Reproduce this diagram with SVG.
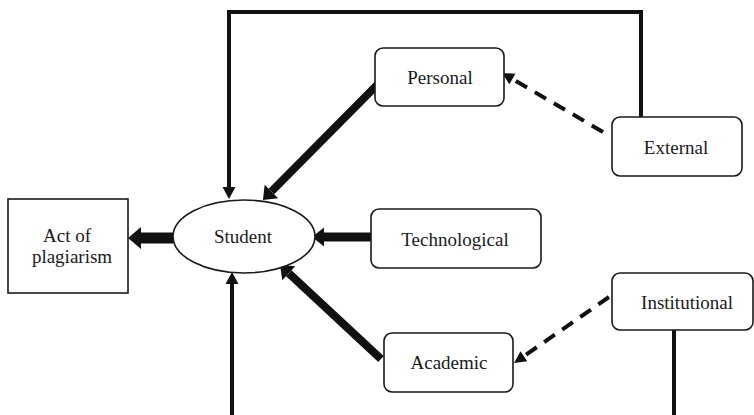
<svg xmlns="http://www.w3.org/2000/svg" width="754" height="415" viewBox="0 0 754 415">
<style>
.box{fill:#fff;stroke:#1a1a1a;stroke-width:1.6}
.lbl{font-family:"Liberation Serif","Times New Roman",serif;font-size:19px;fill:#1a1a1a;text-anchor:middle}
.con{fill:none;stroke:#111;stroke-linejoin:miter;stroke-linecap:butt}
.dash{stroke-dasharray:13 9}
</style>
<defs>
<marker id="hBig" markerUnits="userSpaceOnUse" orient="auto" refX="0" refY="0" markerWidth="30" markerHeight="30" viewBox="-1 -15 30 30" overflow="visible"><path d="M0,-11 L13,0 L0,11 Z" fill="#111"/></marker>
<marker id="hMed" markerUnits="userSpaceOnUse" orient="auto" refX="0" refY="0" markerWidth="30" markerHeight="30" viewBox="-1 -15 30 30" overflow="visible"><path d="M0,-9.5 L12,0 L0,9.5 Z" fill="#111"/></marker>
<marker id="hThin" markerUnits="userSpaceOnUse" orient="auto" refX="0" refY="0" markerWidth="30" markerHeight="30" viewBox="-1 -15 30 30" overflow="visible"><path d="M0,-6.5 L12,0 L0,6.5 Z" fill="#111"/></marker>
<marker id="hDash" markerUnits="userSpaceOnUse" orient="auto" refX="0" refY="0" markerWidth="30" markerHeight="30" viewBox="-1 -15 30 30" overflow="visible"><path d="M0,-6 L12,0 L0,6 Z" fill="#111"/></marker>
</defs>
<g id="connectors">
<path class="con" stroke-width="11" d="M174,238 L141,238" marker-end="url(#hBig)"/>
<path class="con" stroke-width="9" d="M371,237 L324,237" marker-end="url(#hMed)"/>
<path class="con" stroke-width="8" d="M378,84 L271.4,191.5" marker-end="url(#hMed)"/>
<path class="con" stroke-width="8" d="M381,359 L288.8,273.2" marker-end="url(#hMed)"/>
<path class="con" stroke-width="4" d="M641,117 L641,12 L229,12 L229,187" marker-end="url(#hThin)"/>
<path class="con" stroke-width="4" d="M232,415 L232,284" marker-end="url(#hThin)"/>
<path class="con" stroke-width="4" d="M674,330 L674,415"/>
<path class="con dash" stroke-width="4" d="M603,132 L512.4,79" marker-end="url(#hDash)"/>
<path class="con dash" stroke-width="4" d="M609,297 L523.9,356.2" marker-end="url(#hDash)"/>
</g>
<g id="act">
<rect class="box" x="8" y="199" width="120" height="94"/>
<text class="lbl" x="67" y="242">Act of</text>
<text class="lbl" x="72" y="263">plagiarism</text>
</g>
<g id="student">
<ellipse class="box" cx="244" cy="236.5" rx="71" ry="36.5"/>
<text class="lbl" x="243" y="243">Student</text>
</g>
<g id="personal">
<rect class="box" x="375" y="48" width="129" height="58" rx="8"/>
<text class="lbl" x="440" y="84">Personal</text>
</g>
<g id="external">
<rect class="box" x="612" y="117" width="130" height="59" rx="8"/>
<text class="lbl" x="676" y="154">External</text>
</g>
<g id="technological">
<rect class="box" x="371" y="209" width="170" height="59" rx="8"/>
<text class="lbl" x="455" y="246">Technological</text>
</g>
<g id="institutional">
<rect class="box" x="612" y="273" width="141" height="57" rx="8"/>
<text class="lbl" x="687" y="309">Institutional</text>
</g>
<g id="academic">
<rect class="box" x="384" y="333" width="129" height="59" rx="8"/>
<text class="lbl" x="449" y="369">Academic</text>
</g>
</svg>
